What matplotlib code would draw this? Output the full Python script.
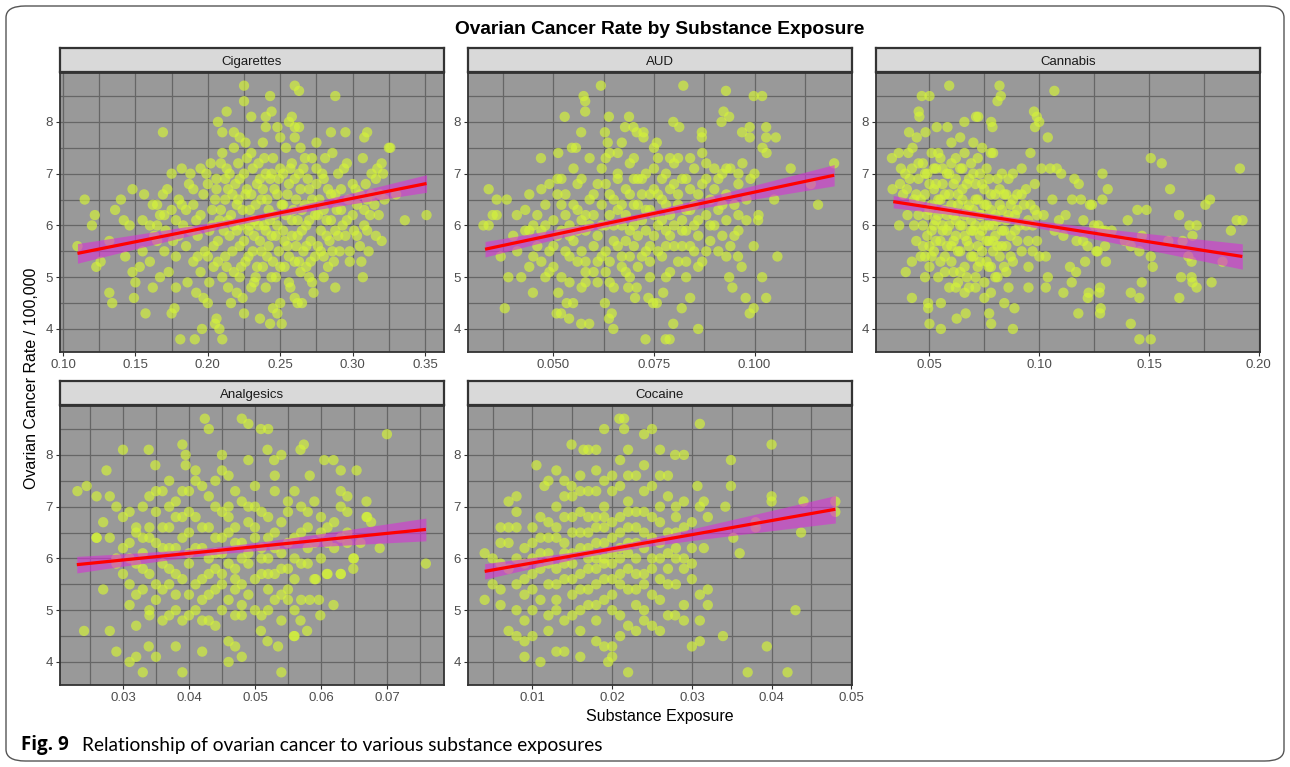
import numpy as np
import matplotlib
matplotlib.use("Agg")
import matplotlib.pyplot as plt
from matplotlib.patches import FancyBboxPatch

plt.rcParams['font.family'] = ['Liberation Sans', 'DejaVu Sans']

# ---- data ----
panel_names = ["Cigarettes", "AUD", "Cannabis", "Analgesics", "Cocaine"]

cig_pts = [
    (0.225, 8.7), (0.225, 8.4), (0.243, 8.5), (0.26, 8.7), (0.263, 8.6), (0.288, 8.5),
    (0.213, 8.2), (0.23, 8.1), (0.207, 8.0), (0.21, 7.8), (0.169, 7.8), (0.244, 8.2),
    (0.24, 8.1), (0.24, 7.9), (0.248, 7.9), (0.256, 8.0), (0.258, 8.1), (0.26, 7.9),
    (0.263, 7.9), (0.26, 7.7), (0.285, 7.8), (0.295, 7.8), (0.31, 7.8), (0.308, 7.7),
    (0.325, 7.5), (0.275, 7.6), (0.218, 7.8), (0.222, 7.7),
    (0.11, 5.6), (0.115, 6.5), (0.12, 6.0), (0.122, 6.2), (0.123, 5.2), (0.126, 5.3),
    (0.132, 4.7), (0.134, 4.5), (0.132, 5.7), (0.136, 6.3), (0.14, 6.5), (0.142, 6.1),
    (0.143, 5.4), (0.146, 6.0), (0.148, 6.7), (0.148, 5.1), (0.149, 4.6), (0.15, 4.9),
    (0.153, 5.2), (0.155, 5.5), (0.155, 6.1), (0.156, 6.6), (0.157, 4.3), (0.16, 5.3),
    (0.162, 6.4), (0.162, 4.8), (0.163, 5.8), (0.165, 6.0), (0.165, 6.4), (0.167, 6.2),
    (0.167, 5.0), (0.169, 6.6), (0.17, 5.5), (0.171, 5.9), (0.172, 6.7), (0.173, 5.1),
    (0.175, 4.3), (0.175, 7.0), (0.175, 6.3), (0.177, 4.4), (0.178, 5.4), (0.178, 4.8),
    (0.18, 6.5), (0.181, 3.8), (0.182, 7.1), (0.183, 6.0), (0.185, 5.6), (0.186, 4.9),
    (0.187, 6.8), (0.188, 7.0), (0.19, 5.3), (0.19, 6.4), (0.191, 3.8), (0.192, 4.7),
    (0.193, 5.8), (0.195, 7.1), (0.195, 6.2), (0.196, 4.0), (0.197, 4.6), (0.198, 5.5),
    (0.2, 6.8), (0.2, 4.5), (0.201, 4.9), (0.202, 7.2), (0.203, 6.0), (0.204, 5.2),
    (0.205, 6.5), (0.205, 4.1), (0.206, 4.2), (0.207, 5.7), (0.208, 4.0), (0.209, 6.3),
    (0.21, 3.8), (0.21, 7.4), (0.21, 5.0), (0.212, 6.9), (0.212, 5.4), (0.213, 7.1),
    (0.214, 6.1), (0.215, 5.8), (0.216, 4.5), (0.217, 6.6), (0.218, 7.5), (0.218, 5.1),
    (0.22, 6.4), (0.22, 4.7), (0.221, 7.2), (0.222, 5.6), (0.223, 6.0), (0.224, 4.6),
    (0.225, 4.3), (0.225, 7.0), (0.226, 5.3), (0.227, 6.7), (0.228, 5.9), (0.229, 6.3),
    (0.23, 4.8), (0.23, 7.4), (0.231, 5.5), (0.232, 6.1), (0.233, 5.0), (0.234, 6.8),
    (0.235, 7.2), (0.236, 4.2), (0.236, 5.7), (0.237, 6.5), (0.238, 5.2), (0.239, 6.0),
    (0.24, 7.0), (0.24, 4.8), (0.241, 5.4), (0.242, 6.3), (0.243, 4.1), (0.243, 6.9),
    (0.244, 5.8), (0.245, 4.4), (0.245, 7.3), (0.246, 6.2), (0.247, 5.0), (0.248, 4.3),
    (0.248, 6.6), (0.249, 5.5), (0.25, 7.1), (0.25, 4.5), (0.251, 4.1), (0.252, 5.9),
    (0.252, 6.4), (0.253, 5.2), (0.254, 7.5), (0.255, 5.6), (0.256, 6.8), (0.257, 4.8),
    (0.258, 6.1), (0.258, 7.2), (0.26, 5.3), (0.26, 4.6), (0.261, 6.5), (0.262, 5.8),
    (0.262, 4.5), (0.263, 7.0), (0.264, 5.1), (0.265, 6.3), (0.265, 4.5), (0.266, 5.5),
    (0.267, 7.3), (0.268, 6.0), (0.27, 6.7), (0.27, 5.0), (0.271, 5.3), (0.272, 4.9),
    (0.273, 4.7), (0.274, 6.2), (0.275, 7.1), (0.276, 5.6), (0.277, 6.5), (0.278, 5.9),
    (0.28, 6.9), (0.28, 5.4), (0.281, 7.3), (0.282, 6.1), (0.283, 5.2), (0.284, 5.7),
    (0.285, 6.6), (0.286, 7.4), (0.287, 5.3), (0.288, 5.9), (0.288, 4.8), (0.289, 6.3),
    (0.29, 7.0), (0.291, 5.5), (0.292, 6.7), (0.293, 6.0), (0.295, 5.8), (0.296, 7.2),
    (0.297, 6.5), (0.298, 5.5), (0.3, 6.2), (0.301, 5.9), (0.302, 6.7), (0.303, 6.4),
    (0.305, 5.6), (0.306, 5.3), (0.307, 5.0), (0.307, 7.3), (0.308, 6.0), (0.309, 6.8),
    (0.31, 6.5), (0.311, 5.5), (0.312, 6.2), (0.313, 7.0), (0.315, 6.4), (0.316, 5.8),
    (0.317, 7.1), (0.319, 6.6), (0.32, 5.7), (0.321, 7.0), (0.322, 6.5), (0.326, 7.5),
    (0.33, 6.6), (0.336, 6.1), (0.351, 6.2),
    (0.195, 5.1), (0.197, 6.6), (0.199, 7.0), (0.201, 5.9), (0.203, 6.3), (0.204, 5.6),
    (0.206, 6.9), (0.207, 5.3), (0.208, 6.1), (0.209, 7.2), (0.211, 5.9), (0.212, 6.5),
    (0.213, 5.2), (0.214, 6.7), (0.215, 7.0), (0.216, 6.2), (0.217, 5.5), (0.218, 6.0),
    (0.219, 6.8), (0.22, 5.9), (0.221, 6.5), (0.222, 6.9), (0.223, 5.2), (0.224, 6.3),
    (0.225, 5.7), (0.226, 6.6), (0.227, 7.3), (0.228, 5.4), (0.229, 6.0), (0.23, 6.6),
    (0.231, 7.1), (0.232, 5.8), (0.233, 6.4), (0.234, 5.2), (0.235, 6.0), (0.236, 6.9),
    (0.237, 5.5), (0.238, 6.7), (0.239, 7.3), (0.24, 5.9), (0.241, 6.5), (0.242, 5.6),
    (0.243, 6.1), (0.244, 7.0), (0.245, 5.3), (0.246, 6.7), (0.247, 5.8), (0.248, 6.0),
    (0.249, 6.9), (0.25, 5.2), (0.251, 6.4), (0.252, 7.0), (0.253, 5.7), (0.254, 6.2),
    (0.255, 6.6), (0.256, 5.4), (0.257, 7.1), (0.258, 5.8), (0.259, 6.3), (0.26, 6.9),
    (0.261, 5.6), (0.262, 6.1), (0.263, 5.3), (0.264, 6.7), (0.265, 5.9), (0.266, 7.1),
    (0.267, 6.4), (0.268, 5.6), (0.269, 6.9), (0.27, 6.1), (0.271, 5.7), (0.272, 6.5),
    (0.274, 5.4), (0.275, 6.8), (0.276, 6.2), (0.278, 5.5), (0.279, 7.0), (0.28, 6.3),
    (0.282, 5.8), (0.283, 6.7), (0.285, 6.1), (0.286, 5.5), (0.288, 6.6), (0.29, 5.8),
    (0.292, 6.3), (0.294, 7.1), (0.296, 6.1), (0.298, 5.3), (0.3, 6.8), (0.303, 5.8),
    (0.305, 6.6), (0.308, 6.3), (0.31, 5.9), (0.313, 6.6), (0.316, 6.9), (0.318, 6.2),
    (0.32, 7.2), (0.185, 6.3), (0.188, 5.9), (0.19, 6.7), (0.192, 6.1), (0.193, 5.4),
    (0.18, 5.8), (0.182, 6.4), (0.176, 5.7), (0.17, 6.2), (0.165, 5.7), (0.16, 6.0),
    (0.178, 6.1), (0.2, 5.4), (0.206, 6.7), (0.222, 5.0), (0.232, 4.9), (0.244, 5.0),
    (0.256, 4.9), (0.268, 5.2), (0.28, 5.0), (0.214, 4.8), (0.226, 7.6), (0.238, 7.6),
    (0.25, 7.7), (0.264, 7.5), (0.272, 7.3),
]

aud_pts = [
    (0.0618, 8.7), (0.0575, 8.5), (0.0579, 8.4), (0.0579, 8.2), (0.0528, 8.1), (0.0638, 8.1),
    (0.0688, 8.1), (0.0823, 8.7), (0.0929, 8.6), (0.0998, 8.5), (0.1019, 8.5), (0.0923, 8.2),
    (0.0937, 8.1), (0.0918, 8.0), (0.0798, 8.0), (0.0813, 7.9), (0.0869, 7.8), (0.0869, 7.7),
    (0.0969, 7.8), (0.0988, 7.9), (0.0988, 7.7), (0.1029, 7.9), (0.1029, 7.7), (0.1053, 7.7),
    (0.0569, 7.8), (0.0628, 7.8), (0.0678, 7.9), (0.0699, 7.9), (0.0707, 7.8), (0.0724, 7.8),
    (0.0724, 7.7), (0.0635, 7.6), (0.067, 7.6), (0.0757, 7.6), (0.0469, 7.3), (0.0512, 7.4),
    (0.0546, 7.5), (0.0556, 7.5), (0.0379, 4.4), (0.0339, 6.7), (0.0359, 6.5), (0.0384, 6.5),
    (0.0326, 6.0), (0.0339, 6.0), (0.0349, 6.2), (0.0359, 6.2), (0.0369, 5.4), (0.0388, 5.0),
    (0.0449, 4.7), (0.0409, 6.2), (0.043, 6.3), (0.044, 6.6), (0.109, 7.1), (0.114, 6.8),
    (0.1158, 6.4), (0.1198, 7.2), (0.1049, 6.5), (0.1057, 5.4), (0.1009, 6.1), (0.0998, 5.6),
    (0.1019, 5.0), (0.1029, 4.6), (0.0998, 4.4), (0.0988, 4.3), (0.0978, 4.6), (0.0968, 5.2),
    (0.0959, 5.4), (0.0937, 5.0), (0.0945, 4.8), (0.086, 4.0), (0.084, 4.6), (0.0819, 4.4),
    (0.0798, 4.1), (0.0779, 3.8), (0.0789, 3.8), (0.0729, 3.8), (0.0649, 4.0), (0.0645, 4.3),
    (0.0638, 4.2), (0.0628, 4.5), (0.0589, 4.1), (0.0569, 4.1), (0.0539, 4.2), (0.0519, 4.3),
    (0.0508, 4.3), (0.0512, 4.7), (0.0533, 4.5), (0.0549, 4.5), (0.0686, 4.8), (0.0707, 4.8),
    (0.0736, 4.6), (0.0748, 4.5), (0.0757, 4.5), (0.0773, 4.7), (0.0703, 4.6),
    (0.040, 5.8), (0.041, 5.5), (0.042, 5.0), (0.043, 5.9), (0.044, 5.2), (0.045, 6.0),
    (0.046, 5.6), (0.047, 5.9), (0.047, 6.7), (0.048, 5.0), (0.048, 6.4), (0.049, 5.5),
    (0.049, 6.8), (0.050, 5.2), (0.050, 6.1), (0.051, 5.8), (0.051, 6.9), (0.052, 5.0),
    (0.052, 6.4), (0.053, 5.5), (0.053, 6.6), (0.054, 4.9), (0.054, 6.0), (0.055, 5.7),
    (0.055, 7.1), (0.056, 5.3), (0.056, 6.3), (0.057, 4.8), (0.057, 6.9), (0.058, 5.9),
    (0.058, 5.1), (0.059, 6.5), (0.059, 7.3), (0.060, 5.6), (0.060, 6.2), (0.061, 4.9),
    (0.061, 6.8), (0.062, 5.4), (0.062, 7.1), (0.063, 6.0), (0.063, 5.1), (0.064, 6.6),
    (0.064, 7.4), (0.065, 5.7), (0.065, 4.8), (0.066, 6.3), (0.066, 7.0), (0.067, 5.4),
    (0.067, 6.0), (0.068, 6.7), (0.068, 5.1), (0.069, 5.9), (0.069, 7.2), (0.070, 6.4),
    (0.070, 5.6), (0.071, 6.9), (0.071, 5.2), (0.072, 6.1), (0.072, 6.6), (0.073, 5.5),
    (0.073, 7.0), (0.074, 6.3), (0.074, 5.0), (0.075, 6.7), (0.075, 5.8), (0.076, 6.0),
    (0.076, 7.3), (0.077, 5.4), (0.077, 6.5), (0.078, 5.9), (0.078, 7.0), (0.079, 6.2),
    (0.079, 5.1), (0.080, 6.8), (0.080, 5.6), (0.081, 6.4), (0.081, 7.3), (0.082, 5.9),
    (0.082, 6.1), (0.083, 5.3), (0.083, 6.9), (0.084, 6.3), (0.084, 5.6), (0.085, 7.1),
    (0.085, 6.0), (0.086, 5.8), (0.086, 6.6), (0.087, 7.4), (0.087, 5.3), (0.088, 6.2),
    (0.088, 6.9), (0.089, 5.7), (0.089, 6.5), (0.090, 7.1), (0.090, 6.0), (0.091, 5.5),
    (0.091, 6.3), (0.092, 7.0), (0.092, 5.8), (0.093, 6.6), (0.093, 6.1), (0.094, 5.6),
    (0.094, 7.1), (0.095, 6.4), (0.096, 5.9), (0.096, 6.8), (0.097, 7.2), (0.098, 6.5),
    (0.099, 6.9), (0.100, 7.0), (0.101, 6.2), (0.102, 7.5), (0.103, 7.4),
    (0.050, 5.6), (0.051, 6.6), (0.052, 5.9), (0.053, 6.2), (0.054, 5.4), (0.055, 6.4),
    (0.056, 5.9), (0.056, 6.8), (0.057, 5.5), (0.058, 6.2), (0.058, 5.3), (0.059, 6.0),
    (0.060, 6.6), (0.060, 5.1), (0.061, 5.8), (0.062, 6.4), (0.062, 6.0), (0.063, 5.5),
    (0.063, 6.8), (0.064, 6.2), (0.064, 5.3), (0.065, 6.0), (0.065, 6.5), (0.066, 5.6),
    (0.066, 6.9), (0.067, 6.4), (0.067, 5.2), (0.068, 5.7), (0.068, 6.2), (0.069, 6.6),
    (0.069, 5.4), (0.070, 6.9), (0.070, 6.0), (0.071, 5.8), (0.071, 6.4), (0.072, 5.4),
    (0.072, 6.9), (0.073, 6.3), (0.073, 5.9), (0.074, 6.6), (0.074, 5.6), (0.075, 6.2),
    (0.075, 7.1), (0.076, 5.5), (0.076, 6.6), (0.077, 6.1), (0.077, 6.9), (0.078, 5.6),
    (0.078, 6.4), (0.079, 6.7), (0.079, 5.8), (0.080, 6.0), (0.080, 7.2), (0.081, 5.3),
    (0.081, 6.6), (0.082, 6.9), (0.082, 5.6), (0.083, 6.3), (0.083, 5.9), (0.084, 6.7),
    (0.085, 5.5), (0.085, 6.4), (0.086, 6.1), (0.087, 6.8), (0.088, 5.5), (0.089, 6.0),
    (0.090, 6.7), (0.091, 6.9), (0.092, 6.4), (0.093, 5.4), (0.095, 5.8), (0.096, 6.2),
    (0.098, 6.1), (0.058, 4.9), (0.061, 5.3), (0.064, 4.9), (0.069, 5.0), (0.074, 5.3),
    (0.078, 5.0), (0.083, 5.0), (0.086, 5.2), (0.054, 5.8), (0.057, 6.1), (0.052, 6.9),
    (0.046, 6.2), (0.045, 5.4), (0.044, 5.9), (0.047, 5.3), (0.048, 6.0), (0.049, 5.1),
    (0.063, 7.3), (0.066, 7.4), (0.070, 7.3), (0.075, 7.5), (0.079, 7.3), (0.084, 7.3),
    (0.088, 7.2), (0.093, 7.1), (0.096, 7.0),
]

can_pts = [
    (0.059, 8.7), (0.0819, 8.7), (0.0825, 8.5), (0.081, 8.4), (0.0465, 8.5), (0.05, 8.5),
    (0.0451, 8.2), (0.0454, 8.1), (0.1069, 8.6), (0.0976, 8.2), (0.0989, 8.1), (0.1, 8.0),
    (0.0981, 7.9), (0.0712, 8.1), (0.0722, 8.1), (0.0781, 8.0), (0.0787, 7.9), (0.0659, 8.0),
    (0.0582, 7.9), (0.0533, 7.9), (0.0407, 7.8), (0.0442, 7.7), (0.0482, 7.8), (0.1039, 7.7),
    (0.0329, 7.3), (0.036, 7.4), (0.0404, 7.4), (0.0423, 7.5), (0.1508, 7.3), (0.1558, 7.2),
    (0.1914, 7.1), (0.1596, 6.7), (0.1778, 6.5), (0.1757, 6.4), (0.1447, 6.3), (0.1489, 6.3),
    (0.1637, 6.2), (0.1899, 6.1), (0.1926, 6.1), (0.1873, 5.9), (0.1684, 6.0), (0.1717, 6.0),
    (0.1698, 5.8), (0.1653, 5.7), (0.1588, 5.7), (0.1468, 5.8), (0.1403, 6.1), (0.1417, 5.6),
    (0.1456, 5.5), (0.1508, 5.4), (0.1517, 5.2), (0.1679, 5.4), (0.1694, 5.3), (0.1835, 5.3),
    (0.1646, 5.0), (0.1694, 5.0), (0.1698, 4.9), (0.1717, 4.8), (0.1785, 4.9), (0.1638, 4.6),
    (0.1467, 4.9), (0.1456, 4.6), (0.1417, 4.7), (0.1417, 4.1), (0.1456, 3.8), (0.1508, 3.8),
    (0.1277, 4.8), (0.1274, 4.7), (0.128, 4.4), (0.1277, 4.3), (0.1178, 4.3), (0.1221, 4.6),
    (0.1225, 4.7), (0.111, 4.7), (0.1148, 4.9), (0.114, 5.2), (0.1168, 5.1), (0.1209, 5.3),
    (0.1304, 5.3), (0.13, 5.6), (0.1266, 5.5), (0.1288, 5.9), (0.1312, 6.7), (0.1288, 7.0),
    (0.1231, 6.4), (0.1288, 6.5), (0.1201, 6.1), (0.0951, 4.8), (0.103, 4.8), (0.1039, 5.0),
    (0.0951, 5.2), (0.0887, 4.4), (0.088, 4.0), (0.0841, 4.5), (0.0781, 4.1), (0.0772, 4.3),
    (0.0624, 4.2), (0.0665, 4.3), (0.0552, 4.0), (0.05, 4.1), (0.0494, 4.5), (0.0494, 4.4),
    (0.0552, 4.5), (0.042, 4.6), (0.0392, 5.1), (0.0362, 6.0), (0.0332, 6.7), (0.0366, 6.8),
    (0.0397, 6.7),
    (0.042, 7.1), (0.043, 6.5), (0.044, 5.7), (0.045, 6.9), (0.045, 6.2), (0.046, 5.4),
    (0.047, 7.2), (0.047, 6.0), (0.048, 5.0), (0.048, 6.6), (0.049, 5.8), (0.049, 7.0),
    (0.050, 6.3), (0.050, 5.2), (0.051, 7.4), (0.051, 5.9), (0.052, 6.7), (0.052, 5.5),
    (0.053, 7.1), (0.053, 6.1), (0.054, 5.0), (0.054, 6.5), (0.055, 5.7), (0.055, 7.3),
    (0.056, 6.0), (0.056, 6.8), (0.057, 5.4), (0.057, 6.3), (0.058, 7.0), (0.058, 5.9),
    (0.059, 4.8), (0.059, 6.6), (0.060, 5.6), (0.060, 7.2), (0.061, 6.2), (0.061, 5.1),
    (0.062, 6.9), (0.062, 5.8), (0.063, 6.4), (0.063, 4.9), (0.064, 7.1), (0.064, 5.5),
    (0.065, 6.0), (0.065, 6.7), (0.066, 5.2), (0.066, 7.4), (0.067, 6.3), (0.067, 5.7),
    (0.068, 4.8), (0.068, 6.9), (0.069, 6.1), (0.069, 5.4), (0.070, 7.0), (0.070, 5.9),
    (0.071, 6.5), (0.071, 5.0), (0.072, 5.6), (0.072, 7.3), (0.073, 6.2), (0.073, 5.3),
    (0.074, 6.8), (0.074, 5.9), (0.075, 6.4), (0.075, 4.9), (0.076, 5.7), (0.076, 7.1),
    (0.077, 6.0), (0.077, 5.2), (0.078, 6.6), (0.078, 4.7), (0.079, 5.5), (0.079, 7.4),
    (0.080, 6.2), (0.080, 5.8), (0.081, 6.9), (0.081, 5.0), (0.082, 6.4), (0.082, 5.4),
    (0.083, 7.0), (0.083, 5.9), (0.084, 6.6), (0.084, 5.2), (0.085, 6.1), (0.085, 5.6),
    (0.086, 6.9), (0.086, 4.8), (0.087, 6.4), (0.087, 5.8), (0.088, 5.3), (0.088, 7.0),
    (0.089, 6.2), (0.090, 5.7), (0.090, 6.6), (0.091, 6.0), (0.092, 7.1), (0.092, 5.5),
    (0.093, 6.4), (0.094, 6.7), (0.095, 5.7), (0.095, 6.1), (0.096, 7.4), (0.097, 5.5),
    (0.098, 6.8), (0.098, 6.3), (0.099, 5.7), (0.100, 5.4), (0.101, 7.1), (0.102, 6.2),
    (0.103, 5.4), (0.105, 7.1), (0.106, 6.5), (0.107, 5.9), (0.108, 7.1), (0.109, 6.1),
    (0.110, 7.0), (0.111, 5.8), (0.112, 6.2), (0.115, 6.5), (0.116, 6.9), (0.117, 5.7),
    (0.118, 6.8), (0.119, 6.5), (0.120, 5.7), (0.122, 5.6), (0.124, 6.4), (0.125, 6.0),
    (0.126, 5.5), (0.127, 6.0), (0.13, 5.9), (0.133, 5.9), (0.139, 5.7),
    (0.046, 6.5), (0.047, 5.6), (0.048, 7.0), (0.049, 6.2), (0.050, 5.6), (0.050, 6.8),
    (0.051, 6.4), (0.051, 5.4), (0.052, 7.1), (0.052, 6.0), (0.053, 5.7), (0.053, 6.8),
    (0.054, 6.2), (0.054, 7.4), (0.055, 5.3), (0.055, 6.5), (0.056, 5.9), (0.056, 7.1),
    (0.057, 6.6), (0.057, 5.1), (0.058, 6.2), (0.058, 5.6), (0.059, 7.0), (0.059, 6.0),
    (0.060, 6.4), (0.060, 5.3), (0.061, 6.8), (0.061, 5.7), (0.062, 6.1), (0.062, 7.3),
    (0.063, 5.5), (0.063, 6.6), (0.064, 6.0), (0.064, 5.1), (0.065, 6.5), (0.065, 7.1),
    (0.066, 5.8), (0.066, 6.2), (0.067, 5.0), (0.067, 6.8), (0.068, 6.4), (0.068, 5.6),
    (0.069, 7.2), (0.069, 5.9), (0.070, 6.3), (0.070, 5.4), (0.071, 6.8), (0.071, 6.0),
    (0.072, 5.2), (0.072, 6.5), (0.073, 5.8), (0.073, 7.0), (0.074, 6.2), (0.074, 5.5),
    (0.075, 6.7), (0.075, 6.0), (0.076, 5.3), (0.076, 6.4), (0.077, 5.7), (0.077, 6.9),
    (0.078, 6.3), (0.078, 5.2), (0.079, 6.0), (0.079, 5.7), (0.080, 6.6), (0.080, 5.0),
    (0.081, 6.1), (0.081, 5.6), (0.082, 6.7), (0.083, 5.6), (0.083, 6.3), (0.084, 5.9),
    (0.085, 6.6), (0.085, 5.1), (0.086, 6.2), (0.087, 5.4), (0.088, 6.5), (0.089, 5.9),
    (0.090, 6.3), (0.092, 6.6), (0.094, 6.0), (0.096, 6.4), (0.097, 6.0), (0.099, 6.2),
    (0.045, 7.2), (0.044, 6.6), (0.043, 6.0), (0.042, 5.3), (0.041, 6.9), (0.040, 6.2),
    (0.039, 7.0), (0.038, 6.6), (0.037, 7.1), (0.048, 5.4), (0.062, 4.8), (0.066, 4.7),
    (0.071, 4.8), (0.075, 4.6), (0.060, 7.6), (0.064, 7.7), (0.070, 7.6), (0.074, 7.5),
    (0.078, 7.4),
]

ana_pts = [
    (0.0231, 7.3), (0.0245, 7.4), (0.0241, 4.6), (0.026, 7.2), (0.026, 6.4), (0.027, 5.4),
    (0.0275, 7.7), (0.028, 7.2), (0.028, 4.6), (0.029, 4.2), (0.03, 8.1), (0.031, 4.0),
    (0.032, 4.1), (0.033, 3.8), (0.0339, 8.1), (0.0339, 4.3), (0.0349, 7.8), (0.035, 4.1),
    (0.038, 4.3), (0.039, 3.8), (0.039, 8.2), (0.0395, 8.0), (0.0395, 7.8), (0.0424, 8.7),
    (0.043, 8.5), (0.042, 4.2), (0.045, 8.0), (0.045, 7.7), (0.046, 4.0), (0.046, 4.4),
    (0.047, 4.3), (0.048, 4.1), (0.048, 8.7), (0.049, 8.6), (0.049, 7.9), (0.0509, 8.5),
    (0.052, 8.5), (0.0519, 8.1), (0.0529, 7.9), (0.054, 8.0), (0.054, 3.8), (0.0535, 4.3),
    (0.0519, 4.4), (0.0509, 4.6), (0.056, 4.5), (0.0569, 8.1), (0.0574, 8.2), (0.0605, 7.9),
    (0.0619, 7.9), (0.063, 7.7), (0.0654, 7.7), (0.07, 8.4), (0.0669, 7.1), (0.064, 7.2),
    (0.063, 7.3), (0.0669, 6.8), (0.0676, 6.7), (0.0689, 6.2), (0.0759, 5.9), (0.0649, 6.0),
    (0.064, 6.3), (0.063, 5.7), (0.0619, 5.1), (0.0609, 5.7), (0.0599, 4.9), (0.0579, 4.6),
    (0.0569, 4.8), (0.0559, 4.5), (0.055, 5.2), (0.0597, 5.2), (0.0583, 5.2), (0.0592, 5.6),
    (0.0649, 5.8), (0.0583, 7.6),
    (0.030, 5.7), (0.030, 6.8), (0.031, 6.3), (0.031, 5.1), (0.032, 5.9), (0.032, 6.5),
    (0.032, 4.7), (0.033, 5.4), (0.033, 7.0), (0.033, 6.1), (0.034, 5.0), (0.034, 6.6),
    (0.034, 5.7), (0.035, 6.3), (0.035, 5.2), (0.035, 7.3), (0.036, 5.9), (0.036, 4.8),
    (0.036, 6.6), (0.037, 5.5), (0.037, 7.0), (0.037, 6.2), (0.038, 5.0), (0.038, 6.8),
    (0.038, 5.7), (0.039, 6.4), (0.039, 4.8), (0.039, 7.3), (0.040, 5.9), (0.040, 5.3),
    (0.040, 6.9), (0.041, 6.2), (0.041, 5.0), (0.041, 7.5), (0.042, 5.6), (0.042, 6.6),
    (0.042, 4.8), (0.043, 6.0), (0.043, 7.2), (0.043, 5.3), (0.044, 6.4), (0.044, 5.8),
    (0.044, 4.7), (0.045, 6.9), (0.045, 5.5), (0.045, 6.1), (0.046, 5.2), (0.046, 7.0),
    (0.046, 6.5), (0.047, 5.8), (0.047, 4.9), (0.047, 6.3), (0.048, 5.5), (0.048, 7.1),
    (0.048, 6.0), (0.049, 6.7), (0.049, 5.3), (0.049, 5.9), (0.050, 6.4), (0.050, 5.0),
    (0.050, 7.0), (0.051, 5.7), (0.051, 6.2), (0.051, 4.9), (0.052, 6.8), (0.052, 5.4),
    (0.052, 6.0), (0.053, 7.3), (0.053, 5.7), (0.053, 6.5), (0.054, 6.1), (0.054, 5.3),
    (0.055, 6.9), (0.055, 5.8), (0.055, 7.1), (0.056, 6.4), (0.056, 5.6), (0.057, 7.0),
    (0.057, 5.9), (0.057, 5.2), (0.058, 6.6), (0.058, 6.2), (0.059, 5.6), (0.059, 7.1),
    (0.060, 6.0), (0.060, 6.8), (0.061, 6.3), (0.061, 5.7), (0.062, 6.7), (0.062, 6.2),
    (0.063, 5.7), (0.063, 7.0), (0.064, 6.5), (0.064, 6.9), (0.065, 6.0), (0.066, 6.3),
    (0.067, 6.8), (0.028, 6.4), (0.029, 7.0), (0.029, 6.0), (0.027, 6.7), (0.026, 6.4),
    (0.033, 5.8), (0.034, 6.4), (0.035, 5.5), (0.035, 6.9), (0.036, 6.2), (0.036, 5.4),
    (0.037, 6.6), (0.037, 5.8), (0.038, 6.2), (0.038, 5.3), (0.039, 6.8), (0.039, 5.6),
    (0.040, 6.5), (0.040, 6.1), (0.041, 5.5), (0.041, 6.8), (0.042, 6.2), (0.042, 5.2),
    (0.043, 6.6), (0.043, 5.7), (0.044, 6.1), (0.044, 7.0), (0.045, 5.7), (0.045, 6.4),
    (0.046, 5.9), (0.046, 6.8), (0.047, 5.4), (0.047, 6.6), (0.048, 6.3), (0.048, 5.1),
    (0.049, 6.1), (0.049, 7.0), (0.050, 5.6), (0.050, 6.6), (0.051, 6.0), (0.051, 6.9),
    (0.052, 5.7), (0.052, 6.4), (0.053, 5.2), (0.053, 6.2), (0.054, 6.7), (0.054, 5.8),
    (0.055, 6.3), (0.055, 5.4), (0.056, 6.0), (0.057, 6.5), (0.058, 5.9), (0.059, 6.3),
    (0.060, 6.5), (0.034, 7.2), (0.036, 7.3), (0.038, 7.1), (0.040, 7.3), (0.042, 7.4),
    (0.044, 7.5), (0.047, 7.3), (0.050, 7.4), (0.031, 6.0), (0.032, 6.6), (0.033, 6.4),
    (0.031, 5.5), (0.032, 5.3), (0.034, 4.9), (0.037, 4.9), (0.040, 4.9), (0.043, 4.8),
    (0.045, 5.0), (0.048, 4.9), (0.052, 5.0), (0.054, 4.8), (0.056, 5.0), (0.030, 6.2),
    (0.031, 6.9), (0.029, 5.9), (0.058, 6.9), (0.061, 6.6), (0.063, 6.4), (0.056, 7.3),
    (0.053, 7.6), (0.046, 7.6), (0.041, 7.7), (0.037, 7.5), (0.047, 5.6), (0.044, 5.4),
]

coc_pts = [
    (0.0209, 8.7), (0.0215, 8.7), (0.019, 8.5), (0.0215, 8.5), (0.024, 8.4), (0.025, 8.5),
    (0.031, 8.6), (0.0149, 8.2), (0.04, 8.2), (0.0105, 7.8), (0.013, 7.7), (0.0164, 8.1),
    (0.017, 8.1), (0.018, 8.1), (0.022, 8.1), (0.026, 8.1), (0.0279, 8.0), (0.029, 8.0),
    (0.0349, 7.9), (0.0349, 7.4), (0.04, 7.2), (0.04, 7.1), (0.044, 7.1), (0.048, 7.1),
    (0.048, 6.9), (0.0437, 6.5), (0.038, 6.6), (0.038, 6.7), (0.0352, 6.4), (0.036, 6.1),
    (0.0315, 6.2), (0.032, 6.8), (0.0307, 7.4), (0.0315, 7.1), (0.0342, 7.0), (0.043, 5.0),
    (0.0394, 4.3), (0.042, 3.8), (0.037, 3.8), (0.0339, 4.5), (0.031, 4.4), (0.03, 4.3),
    (0.031, 4.8), (0.032, 5.4), (0.032, 5.1), (0.031, 5.3), (0.03, 5.6), (0.029, 5.1),
    (0.029, 4.8), (0.0279, 4.9), (0.027, 4.9), (0.026, 4.6), (0.025, 4.7), (0.024, 4.8),
    (0.023, 4.6), (0.022, 4.7), (0.022, 3.8), (0.02, 4.1), (0.0195, 4.0), (0.02, 4.3),
    (0.019, 4.3), (0.018, 4.4), (0.016, 4.1), (0.014, 4.2), (0.013, 4.2), (0.011, 4.0),
    (0.009, 4.1), (0.009, 4.4), (0.008, 4.5), (0.007, 4.6), (0.01, 4.5), (0.009, 4.8),
    (0.008, 5.0), (0.006, 5.1), (0.004, 5.2), (0.004, 6.1), (0.005, 6.0), (0.005, 5.5),
    (0.006, 5.4), (0.006, 6.3), (0.007, 7.1), (0.008, 7.2), (0.008, 6.9), (0.0115, 7.4),
    (0.012, 7.5), (0.014, 7.5), (0.0149, 7.4),
    (0.007, 6.3), (0.007, 5.8), (0.008, 6.6), (0.008, 5.5), (0.009, 6.2), (0.009, 5.9),
    (0.009, 5.3), (0.010, 6.6), (0.010, 5.7), (0.010, 6.0), (0.011, 5.2), (0.011, 6.4),
    (0.011, 5.8), (0.012, 6.7), (0.012, 5.5), (0.012, 6.1), (0.012, 4.9), (0.013, 5.8),
    (0.013, 6.4), (0.013, 5.2), (0.013, 7.0), (0.014, 6.1), (0.014, 5.6), (0.014, 4.8),
    (0.014, 6.8), (0.015, 5.9), (0.015, 6.5), (0.015, 5.3), (0.015, 7.2), (0.016, 6.2),
    (0.016, 5.0), (0.016, 5.7), (0.016, 6.9), (0.017, 6.5), (0.017, 5.4), (0.017, 6.0),
    (0.017, 7.3), (0.018, 5.8), (0.018, 6.8), (0.018, 5.1), (0.018, 6.3), (0.019, 6.6),
    (0.019, 5.6), (0.019, 7.0), (0.019, 6.0), (0.020, 5.3), (0.020, 6.4), (0.020, 7.3),
    (0.020, 5.9), (0.021, 6.8), (0.021, 5.5), (0.021, 6.2), (0.021, 4.9), (0.022, 6.6),
    (0.022, 5.8), (0.022, 7.1), (0.022, 6.1), (0.023, 5.4), (0.023, 6.9), (0.023, 6.3),
    (0.024, 5.7), (0.024, 7.3), (0.024, 6.5), (0.025, 6.0), (0.025, 5.3), (0.025, 6.8),
    (0.026, 6.3), (0.026, 5.6), (0.026, 7.0), (0.027, 6.1), (0.027, 5.8), (0.027, 7.2),
    (0.028, 6.5), (0.028, 5.5), (0.029, 6.0), (0.029, 7.1), (0.030, 5.9), (0.028, 6.8),
    (0.023, 7.6), (0.018, 7.7), (0.016, 7.6), (0.020, 7.6), (0.024, 7.8), (0.026, 7.6),
    (0.021, 7.9), (0.019, 7.5),
    (0.012, 5.9), (0.013, 6.6), (0.013, 5.5), (0.014, 6.3), (0.014, 5.9), (0.015, 6.1),
    (0.015, 5.6), (0.015, 6.8), (0.016, 6.5), (0.016, 5.4), (0.017, 6.2), (0.017, 5.8),
    (0.017, 6.8), (0.018, 6.0), (0.018, 6.6), (0.018, 5.5), (0.019, 6.3), (0.019, 5.9),
    (0.019, 6.8), (0.020, 6.1), (0.020, 5.6), (0.020, 6.7), (0.021, 6.5), (0.021, 6.0),
    (0.021, 5.7), (0.022, 6.3), (0.022, 5.4), (0.022, 6.9), (0.023, 6.0), (0.023, 6.6),
    (0.023, 5.7), (0.024, 6.2), (0.024, 5.5), (0.024, 6.9), (0.025, 6.4), (0.025, 5.8),
    (0.026, 6.0), (0.026, 6.7), (0.027, 6.5), (0.027, 5.5), (0.028, 6.2), (0.028, 7.0),
    (0.029, 6.6), (0.030, 6.2), (0.010, 6.3), (0.011, 6.1), (0.011, 6.8), (0.012, 6.4),
    (0.010, 5.4), (0.009, 5.6), (0.008, 6.0), (0.007, 6.6), (0.006, 5.9), (0.006, 6.6),
    (0.014, 7.2), (0.016, 7.3), (0.018, 7.3), (0.021, 7.4), (0.022, 7.6), (0.025, 7.4),
    (0.027, 7.6), (0.013, 5.0), (0.015, 4.9), (0.017, 5.1), (0.019, 5.2), (0.020, 5.0),
    (0.023, 5.1), (0.024, 5.0), (0.026, 5.2), (0.018, 4.8), (0.016, 4.6), (0.021, 4.5),
    (0.012, 4.6), (0.010, 5.0), (0.028, 6.0), (0.030, 6.7), (0.031, 7.0), (0.029, 5.8),
]

# fitted line ends and confidence band half-widths (left, narrowest, right)
fit_x = [(0.110, 0.351), (0.033, 0.1198), (0.0335, 0.1925), (0.023, 0.0759), (0.004, 0.048)]
fit_y = [(5.46, 6.81), (5.54, 6.97), (6.46, 5.40), (5.88, 6.56), (5.75, 6.95)]
band_hw = [(0.19, 0.06, 0.17), (0.15, 0.06, 0.205), (0.12, 0.06, 0.245),
           (0.16, 0.07, 0.22), (0.15, 0.06, 0.265)]

# data ranges per facet (ggplot expands these by 5%)
x_range = [(0.110, 0.351), (0.0331, 0.1199), (0.0336, 0.1926), (0.0231, 0.0760), (0.0041, 0.0479)]
y_range = (3.8, 8.7)
x_ticks = [[0.10, 0.15, 0.20, 0.25, 0.30, 0.35], [0.050, 0.075, 0.100],
           [0.05, 0.10, 0.15, 0.20], [0.03, 0.04, 0.05, 0.06, 0.07],
           [0.01, 0.02, 0.03, 0.04, 0.05]]
x_fmt = ["%.2f", "%.3f", "%.2f", "%.2f", "%.2f"]
y_ticks = [4, 5, 6, 7, 8]

all_pts = [cig_pts, aud_pts, can_pts, ana_pts, coc_pts]

# ---- layout (pixel boxes of the panels) ----
W, H = 1290, 767
cols = [(60, 444), (468, 852), (876, 1260)]
rows = [(73, 352), (406, 685)]
STRIP = 24

BG = "#999999"
GRID = "#666666"
DOT = "#d4f23a"


def px_rect(x0, y0, x1, y1):
    return [x0 / W, 1 - y1 / H, (x1 - x0) / W, (y1 - y0) / H]


def band_halfwidth(x, x0, x1, hw0, hwm, hw1):
    a = hwm ** 2
    r = np.sqrt((hw0 ** 2 - a) / (hw1 ** 2 - a))
    xc = (x0 + r * x1) / (1 + r)
    b = (hw1 ** 2 - a) / (x1 - xc) ** 2
    return np.sqrt(a + b * (x - xc) ** 2)


def expand(lo, hi, f=0.05):
    d = (hi - lo) * f
    return lo - d, hi + d


fig = plt.figure(figsize=(W / 100, H / 100), dpi=100)

# outer rounded frame
frame = FancyBboxPatch((6 / W, 6 / H), 1 - 12 / W, 1 - 12 / H,
                       boxstyle="round,pad=0,rounding_size=0.015",
                       transform=fig.transFigure, fill=False,
                       edgecolor="#555555", linewidth=1.0)
fig.patches.append(frame)

ylim = expand(*y_range)

for i, name in enumerate(panel_names):
    r, c = divmod(i, 3)
    x0, x1 = cols[c]
    y0, y1 = rows[r]
    ax = fig.add_axes(px_rect(x0, y0, x1, y1))
    ax.set_facecolor(BG)

    # major + minor grid
    major = np.array(x_ticks[i])
    step = major[1] - major[0]
    minor = np.arange(major[0] - step / 2, major[-1] + step, step)
    ax.set_xticks(major)
    ax.set_xticklabels([x_fmt[i] % v for v in major])
    ax.set_xticks(minor, minor=True)
    ax.set_yticks(y_ticks)
    ax.set_yticks([4.5, 5.5, 6.5, 7.5, 8.5], minor=True)
    # limits after ticks so the tick lists do not widen the view
    ax.set_xlim(expand(*x_range[i]))
    ax.set_ylim(ylim)
    ax.grid(True, which="both", color=GRID, linewidth=0.9)
    ax.set_axisbelow(True)
    ax.tick_params(which="minor", length=0)
    ax.tick_params(which="major", length=3, width=0.8, color="#333333",
                   labelcolor="#4d4d4d", labelsize=9.5, pad=2)
    for s in ax.spines.values():
        s.set_color("#333333")
        s.set_linewidth(1.3)

    px = [p[0] for p in all_pts[i]]
    py = [p[1] for p in all_pts[i]]
    ax.scatter(px, py, s=55, color=DOT, alpha=0.68, edgecolors="none", zorder=2)

    fx = np.linspace(fit_x[i][0], fit_x[i][1], 100)
    fy = fit_y[i][0] + (fit_y[i][1] - fit_y[i][0]) * (fx - fit_x[i][0]) / (fit_x[i][1] - fit_x[i][0])
    hw = band_halfwidth(fx, fit_x[i][0], fit_x[i][1], *band_hw[i])
    ax.fill_between(fx, fy - hw, fy + hw, color="#d633d6", alpha=0.6, linewidth=0, zorder=3)
    ax.plot(fx, fy, color="#ff0000", linewidth=2.3, zorder=4, solid_capstyle="butt")

    # facet strip
    sax = fig.add_axes(px_rect(x0, y0 - STRIP - 1, x1, y0 - 1))
    sax.set_facecolor("#d9d9d9")
    sax.set_xticks([])
    sax.set_yticks([])
    for s in sax.spines.values():
        s.set_color("#333333")
        s.set_linewidth(1.6)
    sax.text(0.5, 0.42, name, ha="center", va="center", fontsize=9.5, color="#1a1a1a",
             transform=sax.transAxes)

fig.text(660 / W, 1 - 30 / H, "Ovarian Cancer Rate by Substance Exposure",
         ha="center", va="center", fontsize=13.8, fontweight="bold")
fig.text(32 / W, 1 - 378 / H, "Ovarian Cancer Rate / 100,000", rotation=90,
         ha="center", va="center", fontsize=11.5)
fig.text(660 / W, 1 - 716 / H, "Substance Exposure", ha="center", va="center", fontsize=11.5)

fig.text(21 / W, 1 - 745 / H, "Fig. 9", ha="left", va="center", fontsize=13.5,
         fontweight="bold", family=["Open Sans", "DejaVu Sans"])
fig.text(82 / W, 1 - 745 / H, "Relationship of ovarian cancer to various substance exposures",
         ha="left", va="center", fontsize=13.8, family=["Lato", "DejaVu Sans"])

fig.savefig("out.png", dpi=100)
